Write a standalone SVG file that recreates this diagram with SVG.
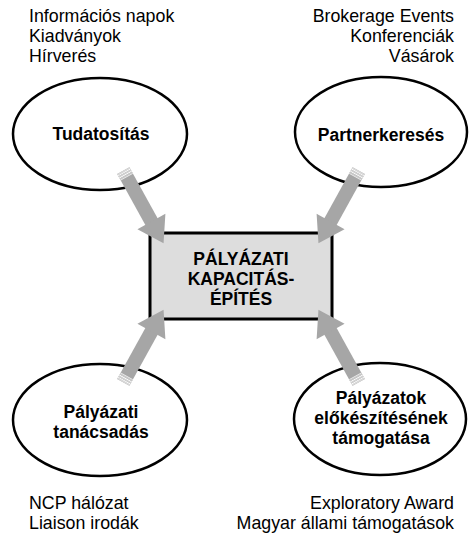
<svg xmlns="http://www.w3.org/2000/svg" width="471" height="536" viewBox="0 0 471 536">
<style>
.n{fill:#fff;stroke:#000;stroke-width:2.5}
.lbl{font-family:"Liberation Sans",Arial,sans-serif;font-size:17.5px;font-weight:bold;fill:#000;text-anchor:middle}
.note{font-family:"Liberation Sans",Arial,sans-serif;font-size:17.8px;fill:#000}
.r{text-anchor:end}
</style>
<defs>
<g id="arrow">
<rect x="0" y="-7" width="59" height="14" fill="#a6a6a6"/>
<polygon points="58,-16 83,0 58,16" fill="#a6a6a6"/>
<rect x="0" y="-7" width="1.5" height="14" fill="#d8d8d8"/>
<rect x="1.5" y="-7" width="1" height="14" fill="#ffffff"/>
<rect x="2.5" y="-7" width="1.5" height="14" fill="#d0d0d0"/>
<rect x="4" y="-7" width="1" height="14" fill="#ffffff"/>
<rect x="5" y="-7" width="1.5" height="14" fill="#c8c8c8"/>
<rect x="6.5" y="-7" width="0.8" height="14" fill="#eeeeee"/>
</g>
</defs>
<rect width="471" height="536" fill="#fff"/>
<g id="notes">
<text class="note" x="29" y="22">Információs napok</text>
<text class="note" x="29" y="42">Kiadványok</text>
<text class="note" x="29" y="62">Hírverés</text>
<text class="note r" x="454" y="22">Brokerage Events</text>
<text class="note r" x="454" y="42">Konferenciák</text>
<text class="note r" x="454" y="62">Vásárok</text>
<text class="note" x="29" y="509">NCP hálózat</text>
<text class="note" x="29" y="529">Liaison irodák</text>
<text class="note r" x="454" y="509">Exploratory Award</text>
<text class="note r" x="454" y="529">Magyar állami támogatások</text>
</g>
<g id="tudatositas">
<ellipse class="n" cx="100" cy="134" rx="87" ry="56"/>
<text class="lbl" x="101" y="140">Tudatosítás</text>
</g>
<g id="partnerkereses">
<ellipse class="n" cx="381" cy="132" rx="86" ry="55"/>
<text class="lbl" x="381" y="141">Partnerkeresés</text>
</g>
<g id="tanacsadas">
<ellipse class="n" cx="100" cy="420" rx="87" ry="56"/>
<text class="lbl" x="101" y="418">Pályázati</text>
<text class="lbl" x="101" y="438">tanácsadás</text>
</g>
<g id="elokeszites">
<ellipse class="n" cx="380" cy="419" rx="86" ry="56"/>
<text class="lbl" x="381" y="404">Pályázatok</text>
<text class="lbl" x="381" y="424">előkészítésének</text>
<text class="lbl" x="381" y="444">támogatása</text>
</g>
<g id="kozpont">
<rect x="150" y="233" width="182" height="86" fill="#dddddd" stroke="#000" stroke-width="3"/>
<text class="lbl" x="241" y="265">PÁLYÁZATI</text>
<text class="lbl" x="241" y="285">KAPACITÁS-</text>
<text class="lbl" x="241" y="305">ÉPÍTÉS</text>
</g>
<g id="connectors">
<use href="#arrow" transform="translate(123.3,170.7) rotate(61)"/>
<use href="#arrow" transform="translate(358.7,170.7) rotate(119)"/>
<use href="#arrow" transform="translate(123.3,382.3) rotate(-61)"/>
<use href="#arrow" transform="translate(358.7,382.3) rotate(-119)"/>
</g>
</svg>
